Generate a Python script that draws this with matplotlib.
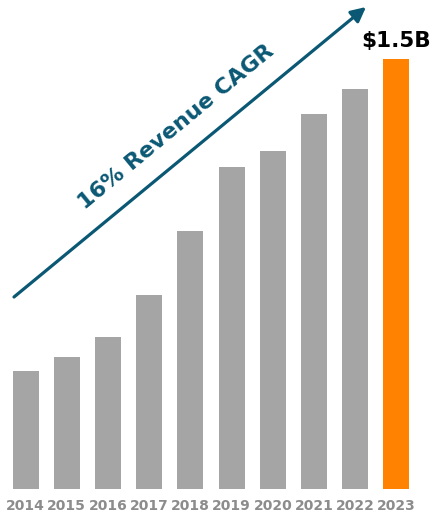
import numpy as np
from matplotlib import pyplot as plt

years = ["2014", "2015", "2016", "2017", "2018", "2019", "2020", "2021", "2022", "2023"]
revenue = [0.41, 0.46, 0.53, 0.677, 0.90, 1.123, 1.179, 1.308, 1.395, 1.50]  # $B
highlight = "2023"
top_label = "$1.5B"
cagr_label = "16% Revenue CAGR"

W, H = 432, 512
fig = plt.figure(figsize=(W/100, H/100), dpi=100)
# axes placed in pixels: left 5, right 417, bottom at 489, top at 59
ax = fig.add_axes([5/W, (H-489)/H, 412/W, 430/H])

colors = ['#ff8300' if y == highlight else '#a5a5a5' for y in years]
x = np.arange(len(years))
ax.bar(x, revenue, width=0.63, color=colors)
ax.set_xlim(-0.5, len(years)-0.5)
ax.set_ylim(0, max(revenue))
ax.set_xticks(x)
ax.set_xticklabels(years, fontsize=10, fontweight='bold', color='#8c8c8c')
ax.tick_params(axis='x', length=0, pad=7.5)
ax.set_yticks([])
for s in ax.spines.values():
    s.set_visible(False)

# value label over the last bar
ax.annotate(top_label, (x[-1], revenue[-1]), xytext=(0, 6), textcoords='offset points',
            ha='center', va='bottom', fontsize=15.5, fontweight='bold', color='black',
            annotation_clip=False)

# growth arrow + CAGR text
teal = '#0b5874'
ax.annotate('', xy=(366/W, 1-7/H), xytext=(14/W, 1-297/H),
            xycoords='figure fraction', textcoords='figure fraction',
            arrowprops=dict(arrowstyle='-|>', lw=2.3, color=teal, mutation_scale=22,
                            shrinkA=0, shrinkB=0))
fig.text(176/W, 1-127/H, cagr_label, rotation=39.5, rotation_mode='anchor',
         ha='center', va='center', fontsize=16, fontweight='bold', color=teal)

plt.savefig('out.png', dpi=100)
